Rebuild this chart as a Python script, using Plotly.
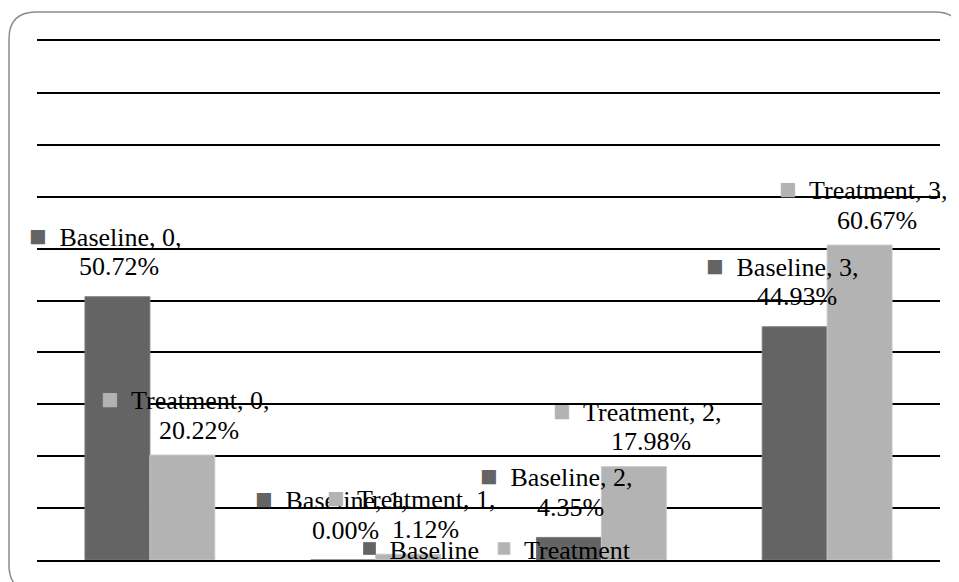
import plotly.graph_objects as go

# ---- data ----
categories = [0, 1, 2, 3]
series_names = ["Baseline", "Treatment"]
baseline = [50.72, 0.00, 4.35, 44.93]
treatment = [20.22, 1.12, 17.98, 60.67]

# ---- style ----
OFF = 8                      # page body margin in the browser
W, H = 959 - OFF, 582 - OFF
ML, MT = 37 - OFF, 41 - OFF
PW, PH = 903, 519
MR, MB = W - ML - PW, H - MT - PH
FONT = "Liberation Serif, Times New Roman, serif"
FS = 26
colors = {"Baseline": "#646464", "Treatment": "#b3b3b3"}
edge = {"Baseline": "#7a7a7a", "Treatment": "#c8c8c8"}
BARGAP = 0.425
label_xshift = {"Baseline": 2, "Treatment": 17}
label_yshift = {"Baseline": 30, "Treatment": 25}
LINE_GAP = 31
KEY_SHIFT = -14

fig = go.Figure()
values = {"Baseline": baseline, "Treatment": treatment}
for name in series_names:
    fig.add_trace(go.Bar(
        x=categories, y=values[name], name=name,
        marker=dict(color=colors[name], line=dict(color=edge[name], width=1)),
    ))

half = (1 - BARGAP) / 4.0
annotations = []
for si, name in enumerate(series_names):
    off = -half if si == 0 else half
    for c, v in zip(categories, values[name]):
        xs = label_xshift[name]
        ys = label_yshift[name]
        sq = f"<span style='color:{colors[name]};font-size:29px'>■</span>"
        annotations.append(dict(
            x=c + off, y=v, xref="x", yref="y",
            text=f"{sq}  {name}, {c},",
            showarrow=False, xanchor="center", yanchor="middle",
            xshift=xs + KEY_SHIFT, yshift=ys + LINE_GAP,
            font=dict(family=FONT, size=FS, color="#000"),
        ))
        annotations.append(dict(
            x=c + off, y=v, xref="x", yref="y",
            text=f"{v:.2f}%",
            showarrow=False, xanchor="center", yanchor="middle",
            xshift=xs, yshift=ys,
            font=dict(family=FONT, size=FS, color="#000"),
        ))

# rounded outer border (figure pixel -> paper)
def px(xp):
    return (xp - ML) / PW

def py(yp):
    return (H - MB - yp) / PH

L, R, T, B, r = 1, 954, 4, 584, 27
path = (
    f"M {px(L + r)},{py(T)} L {px(R - r)},{py(T)} "
    f"Q {px(R)},{py(T)} {px(R)},{py(T + r)} "
    f"L {px(R)},{py(B - r)} Q {px(R)},{py(B)} {px(R - r)},{py(B)} "
    f"L {px(L + r)},{py(B)} Q {px(L)},{py(B)} {px(L)},{py(B - r)} "
    f"L {px(L)},{py(T + r)} Q {px(L)},{py(T)} {px(L + r)},{py(T)} Z"
)

fig.update_layout(
    width=W, height=H,
    margin=dict(l=ML, r=MR, t=MT, b=MB, autoexpand=False),
    paper_bgcolor="white", plot_bgcolor="white",
    barmode="group", bargap=BARGAP, bargroupgap=0,
    font=dict(family=FONT, size=FS, color="#000"),
    showlegend=True,
    legend=dict(orientation="h", x=0.505, xanchor="center", y=0.022, yanchor="middle",
                bgcolor="rgba(0,0,0,0)", font=dict(family=FONT, size=FS, color="#000"),
                itemwidth=30, tracegroupgap=0),
    xaxis=dict(range=[-0.5, 3.5], showticklabels=False, showgrid=False,
               zeroline=False, showline=True, mirror=True, linecolor="#000",
               linewidth=1.5, ticks=""),
    yaxis=dict(range=[0, 100], dtick=10, showticklabels=False, showgrid=True,
               gridcolor="#000", gridwidth=1.5, zeroline=False,
               showline=False, ticks=""),
    annotations=annotations,
    shapes=[dict(type="path", xref="paper", yref="paper", path=path,
                 line=dict(color="#8c8c8c", width=1.5), fillcolor="rgba(0,0,0,0)", layer="above")],
)

fig.write_html("out.html")
